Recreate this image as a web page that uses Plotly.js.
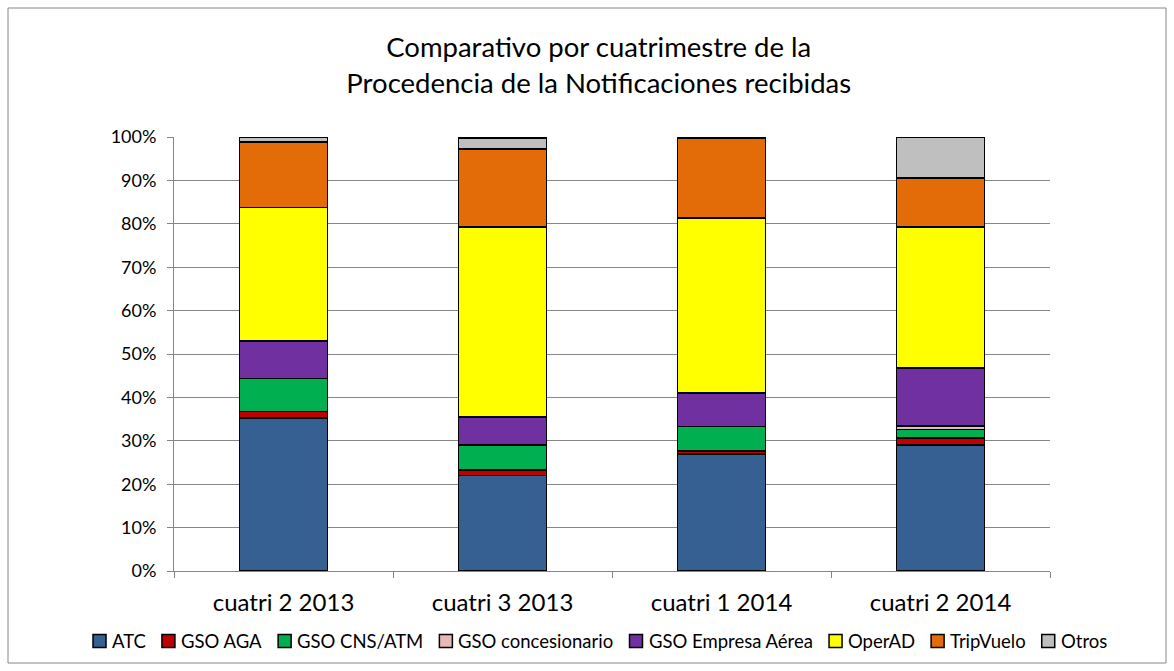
<!DOCTYPE html>
<html><head><meta charset="utf-8">
<script src="https://cdn.plot.ly/plotly-3.0.1.min.js"></script>
<style>body{margin:0;background:#fff}#c{width:1174px;height:671px}</style>
</head><body><div id="c"></div>
<script>
const categories = ["cuatri 2 2013", "cuatri 3 2013", "cuatri 1 2014", "cuatri 2 2014"];
const ATC = [35.3, 22.0, 27.0, 29.0];
const GSO_AGA = [1.5, 1.3, 0.6, 1.7];
const GSO_CNS_ATM = [7.5, 5.7, 5.7, 1.9];
const GSO_concesionario = [0, 0, 0, 0.8];
const GSO_Empresa = [8.7, 6.5, 7.7, 13.4];
const OperAD = [30.7, 43.8, 40.3, 32.5];
const TripVuelo = [15.1, 17.9, 18.4, 11.3];
const Otros = [1.2, 2.6, 0.3, 9.4];

const series = [
  {name: "ATC", y: ATC, color: "#376092"},
  {name: "GSO AGA", y: GSO_AGA, color: "#C00000"},
  {name: "GSO CNS/ATM", y: GSO_CNS_ATM, color: "#00B050"},
  {name: "GSO concesionario", y: GSO_concesionario, color: "#E6B9B8"},
  {name: "GSO Empresa Aérea", y: GSO_Empresa, color: "#7030A0"},
  {name: "OperAD", y: OperAD, color: "#FFFF00"},
  {name: "TripVuelo", y: TripVuelo, color: "#E36C09"},
  {name: "Otros", y: Otros, color: "#BFBFBF"}
];

const traces = series.map(s => ({
  type: "bar", name: s.name, x: categories, y: s.y.map(v => v / 100),
  marker: {color: s.color, line: {color: "#000", width: 1.5}},
  hoverinfo: "name+y"
}));

const font = "Lato, 'Open Sans', sans-serif";
const W = 1174, H = 671, L = 174, R = 124, T = 137, B = 100;
const pw = W - L - R, ph = H - T - B;
const px2x = p => (p - L) / pw;
const py2y = p => (H - B - p) / ph;

// Manual legend (Excel style: small square, tight gap)
const legFont = 18.5, sq = 13, gapST = 4, gapItem = 18, legCY = 641, legCX = 599;
const ctx = document.createElement("canvas").getContext("2d");
ctx.font = legFont + "px Lato";
const widths = series.map(s => ctx.measureText(s.name).width);
const total = widths.reduce((a, w) => a + sq + gapST + w, 0) + gapItem * (series.length - 1);
let cur = legCX - total / 2;
const shapes = [], annotations = [];
series.forEach((s, i) => {
  shapes.push({type: "rect", xref: "paper", yref: "paper",
    x0: px2x(cur), x1: px2x(cur + sq), y0: py2y(legCY + sq / 2), y1: py2y(legCY - sq / 2),
    fillcolor: s.color, line: {color: "#000", width: 1.5}});
  annotations.push({xref: "paper", yref: "paper", x: px2x(cur + sq + gapST), y: py2y(legCY),
    xanchor: "left", yanchor: "middle", showarrow: false, text: s.name,
    font: {size: legFont, family: font, color: "#000"}});
  cur += sq + gapST + widths[i] + gapItem;
});
shapes.push({type: "rect", xref: "paper", yref: "paper",
  x0: px2x(8), x1: px2x(1166), y0: py2y(663), y1: py2y(8),
  line: {color: "#868686", width: 1}, fillcolor: "rgba(0,0,0,0)", layer: "below"});

const layout = {
  barmode: "stack", bargap: 0.6, showlegend: false,
  width: W, height: H,
  margin: {l: L, r: R, t: T, b: B},
  paper_bgcolor: "#fff", plot_bgcolor: "#fff",
  font: {family: font, color: "#000"},
  title: {text: "Comparativo por cuatrimestre de la<br>Procedencia de la Notificaciones recibidas",
          font: {size: 27.5, family: font, color: "#000"}, x: 0.51, xanchor: "center",
          yref: "container", y: 1 - 57 / H, yanchor: "middle"},
  xaxis: {type: "category", tickson: "boundaries", ticks: "outside", ticklen: 6, tickcolor: "#868686",
          showline: true, linecolor: "#868686", linewidth: 1, showgrid: false, automargin: false,
          tickangle: 0, tickfont: {size: 24, family: font}, ticklabelstandoff: 10},
  yaxis: {range: [0, 1], dtick: 0.1, tickformat: ".0%", ticks: "outside", ticklen: 6, tickcolor: "#868686",
          showline: true, linecolor: "#868686", linewidth: 1, gridcolor: "#868686", gridwidth: 1,
          zeroline: false, automargin: false, tickfont: {size: 18, family: font}, ticklabelstandoff: 7},
  shapes: shapes,
  annotations: annotations
};
Plotly.newPlot("c", traces, layout, {displayModeBar: false, staticPlot: true});
</script></body></html>
